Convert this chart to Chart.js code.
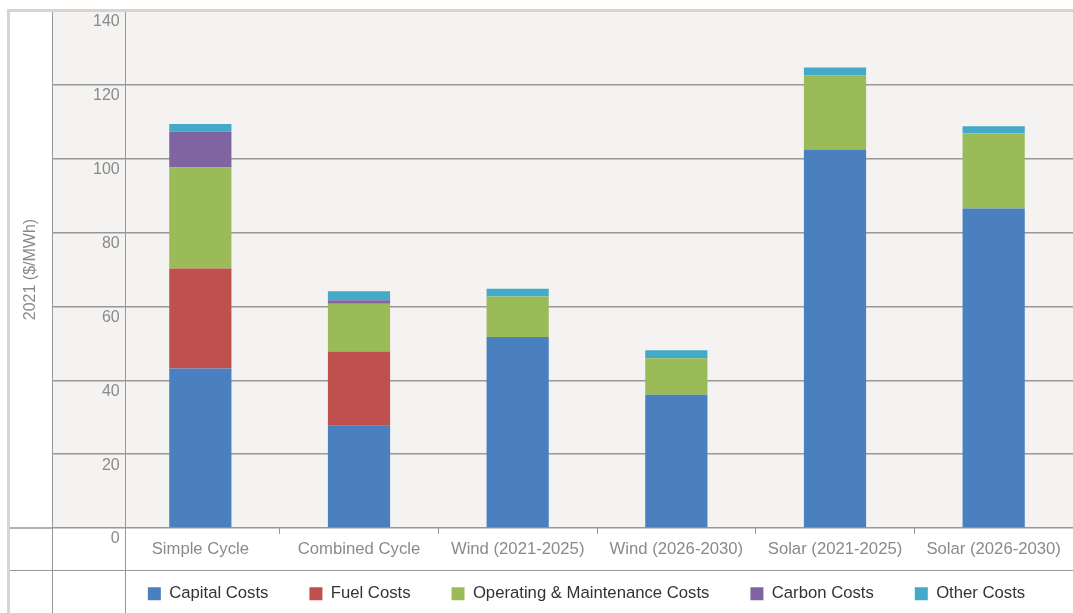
<!DOCTYPE html>
<html>
<head>
<meta charset="utf-8">
<script src="https://cdn.jsdelivr.net/npm/chart.js@4/dist/chart.umd.min.js"></script>
<style>
  body { margin: 0; background: #fff; }
  canvas { display: block; }
</style>
</head>
<body>
<canvas id="costChart" width="1073" height="613"></canvas>
<script>
// values ($/MWh, 2021)
const categories = ['Simple Cycle', 'Combined Cycle', 'Wind (2021-2025)', 'Wind (2026-2030)', 'Solar (2021-2025)', 'Solar (2026-2030)'];
const capitalCosts = [43.2, 27.7, 51.7, 36.1, 102.5, 86.5];
const fuelCosts = [27.1, 20.1, null, null, null, null];
const omCosts = [27.3, 12.9, 11.0, 9.9, 20.1, 20.3];
const carbonCosts = [9.8, 1.0, null, null, null, null];
const otherCosts = [2.0, 2.4, 2.1, 2.1, 2.1, 2.0];
const yTicks = [0, 20, 40, 60, 80, 100, 120, 140];

const grey = '#989898';
const fontFamily = 'Liberation Sans, Arial, sans-serif';

// table frame behind the chart
const framePlugin = {
    id: 'frame',
    beforeDraw(chart) {
        const ctx = chart.ctx;
        const w = chart.width, h = chart.height;
        const bottom = chart.chartArea.bottom;
        ctx.save();
        ctx.fillStyle = '#ffffff';
        ctx.fillRect(0, 0, w, h);
        ctx.fillStyle = '#f4f3f1';
        ctx.fillRect(52, 12, w - 52, bottom - 12);
        ctx.fillStyle = '#dcd4cc';
        ctx.fillRect(7, 9, w - 7, 3);
        ctx.fillRect(7, 9, 3, h - 9);
        ctx.strokeStyle = grey;
        ctx.lineWidth = 1;
        ctx.beginPath();
        ctx.moveTo(52.5, 12); ctx.lineTo(52.5, h);
        ctx.moveTo(125.5, 12); ctx.lineTo(125.5, h);
        ctx.moveTo(10, 570.5); ctx.lineTo(w, 570.5);
        ctx.stroke();
        ctx.lineWidth = 1.5;
        ctx.beginPath();
        ctx.moveTo(10, bottom); ctx.lineTo(53, bottom);
        ctx.stroke();
        ctx.restore();
    }
};

function series(label, data, color) {
    return {
        label: label,
        data: data,
        backgroundColor: color,
        borderWidth: 0,
        barPercentage: 0.392,
        categoryPercentage: 1
    };
}

new Chart(document.getElementById('costChart'), {
    type: 'bar',
    data: {
        labels: categories,
        datasets: [
            series('Capital Costs', capitalCosts, '#4a80bf'),
            series('Fuel Costs', fuelCosts, '#c0504d'),
            series('Operating & Maintenance Costs', omCosts, '#9bbb59'),
            series('Carbon Costs', carbonCosts, '#8064a2'),
            series('Other Costs', otherCosts, '#43abc8')
        ]
    },
    options: {
        responsive: false,
        animation: false,
        layout: { padding: { left: 100, top: 11, right: 0, bottom: 1 } },
        plugins: {
            tooltip: { enabled: false },
            legend: {
                position: 'bottom',
                labels: {
                    boxWidth: 13,
                    boxHeight: 13,
                    padding: 41,
                    color: '#333333',
                    font: { family: fontFamily, size: 16.7 }
                }
            }
        },
        scales: {
            x: {
                stacked: true,
                border: { display: false },
                grid: {
                    drawOnChartArea: false,
                    tickLength: 6,
                    lineWidth: 1,
                    color: (c) => c.index === 0 ? 'transparent' : grey
                },
                ticks: {
                    mirror: true,
                    padding: -31,
                    maxRotation: 0,
                    autoSkip: false,
                    color: '#8a8a8a',
                    font: { family: fontFamily, size: 16.7 }
                },
                afterFit(scale) { scale.height = 16.3; }
            },
            y: {
                stacked: true,
                min: 0,
                max: 140,
                border: { display: false },
                afterBuildTicks(scale) { scale.ticks = yTicks.map(v => ({ value: v })); },
                grid: {
                    tickLength: 69,
                    lineWidth: 1.5,
                    color: (c) => c.tick && c.tick.value === 140 ? 'transparent' : grey
                },
                ticks: {
                    mirror: true,
                    crossAlign: 'far',
                    padding: -28,
                    labelOffset: 11,
                    color: '#8a8a8a',
                    font: { family: fontFamily, size: 16 }
                },
                title: {
                    display: true,
                    text: '2021 ($/MWh)',
                    color: '#8a8a8a',
                    padding: { top: -79, bottom: 0 },
                    font: { family: fontFamily, size: 16 }
                },
                afterFit(scale) { scale.width = 21; }
            }
        }
    },
    plugins: [framePlugin]
});
</script>
</body>
</html>
